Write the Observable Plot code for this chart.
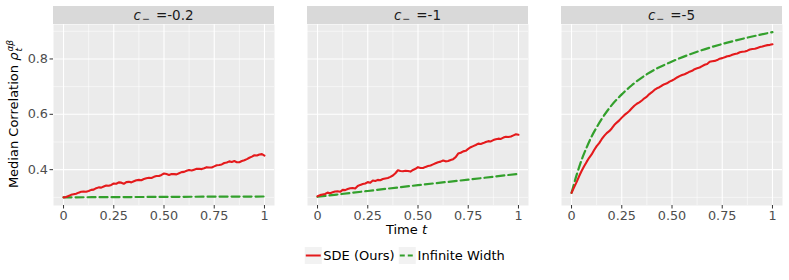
<!DOCTYPE html>
<html><head><meta charset="utf-8">
<script src="https://cdn.jsdelivr.net/npm/d3@7"></script>
<script src="https://cdn.jsdelivr.net/npm/@observablehq/plot@0.6"></script>
<style>
body{margin:0;background:#fff;font-family:"DejaVu Sans",sans-serif;}
#wrap{position:relative;width:789px;height:280px;overflow:hidden;}
#wrap svg.plot{position:absolute;left:0;top:0;}
#wrap svg.plot text{font-family:"DejaVu Sans",sans-serif !important;font-size:12.8px !important;}
.strip{position:absolute;top:6px;height:18px;background:#D9D9D9;color:#1A1A1A;font-size:13.5px;text-align:center;line-height:18px;white-space:nowrap;}
.strip sub{font-size:9.5px;vertical-align:-2px;margin-left:1px;margin-right:6px;}
#ytitle{position:absolute;left:15px;top:114px;transform:translate(-50%,-50%) rotate(-90deg);font-size:13px;color:#000;white-space:nowrap;}
#ytitle .ss{display:inline-flex;flex-direction:column;vertical-align:5px;font-size:9px;line-height:9px;font-style:italic;margin-left:1px;}
#xtitle{position:absolute;top:222px;font-size:13px;line-height:16px;color:#000;white-space:nowrap;transform:translateX(-50%);}
#legend{position:absolute;top:247px;font-size:13px;color:#000;display:flex;align-items:center;white-space:nowrap;transform:translateX(-50%);}
#legend .key{width:17px;height:17px;background:#F2F2F2;display:inline-block;margin-right:2px;}
#legend .item{display:flex;align-items:center;margin-right:4px;}
</style></head><body><div id="wrap"></div>
<script>
// ---- data ----
const panels = ["-0.2", "-1", "-5"];
const seriesNames = ["SDE (Ours)", "Infinite Width"];
const seriesColors = ["#E41A1C", "#33A02C"];

const tSde = [0,0.0125,0.025,0.0375,0.05,0.0625,0.075,0.0875,0.1,0.1125,0.125,0.1375,0.15,0.1625,0.175,0.1875,0.2,0.2125,0.225,0.2375,0.25,0.2625,0.275,0.2875,0.3,0.3125,0.325,0.3375,0.35,0.3625,0.375,0.3875,0.4,0.4125,0.425,0.4375,0.45,0.4625,0.475,0.4875,0.5,0.5125,0.525,0.5375,0.55,0.5625,0.575,0.5875,0.6,0.6125,0.625,0.6375,0.65,0.6625,0.675,0.6875,0.7,0.7125,0.725,0.7375,0.75,0.7625,0.775,0.7875,0.8,0.8125,0.825,0.8375,0.85,0.8625,0.875,0.8875,0.9,0.9125,0.925,0.9375,0.95,0.9625,0.975,0.9875,1];
const sdeA = [0.300,0.301,0.305,0.309,0.311,0.313,0.317,0.320,0.321,0.320,0.323,0.327,0.328,0.333,0.336,0.335,0.339,0.343,0.342,0.345,0.350,0.349,0.354,0.353,0.349,0.355,0.356,0.354,0.358,0.362,0.363,0.362,0.366,0.369,0.371,0.370,0.374,0.377,0.377,0.381,0.386,0.384,0.381,0.384,0.384,0.383,0.387,0.391,0.392,0.396,0.399,0.397,0.400,0.403,0.403,0.402,0.405,0.409,0.408,0.408,0.412,0.416,0.417,0.419,0.424,0.426,0.430,0.428,0.431,0.427,0.427,0.431,0.434,0.438,0.443,0.447,0.452,0.451,0.455,0.456,0.451];
const sdeB = [0.304,0.308,0.310,0.312,0.317,0.315,0.318,0.321,0.322,0.320,0.327,0.326,0.330,0.333,0.334,0.332,0.341,0.345,0.348,0.350,0.355,0.353,0.361,0.359,0.363,0.362,0.366,0.368,0.370,0.374,0.379,0.387,0.398,0.395,0.394,0.396,0.395,0.393,0.399,0.403,0.409,0.406,0.406,0.410,0.413,0.415,0.419,0.423,0.427,0.429,0.433,0.430,0.431,0.435,0.438,0.445,0.458,0.461,0.466,0.468,0.475,0.481,0.485,0.489,0.494,0.493,0.496,0.500,0.503,0.502,0.507,0.510,0.512,0.511,0.516,0.519,0.518,0.520,0.524,0.528,0.526];
const sdeC = [0.316,0.336,0.355,0.376,0.395,0.412,0.428,0.443,0.455,0.471,0.485,0.496,0.510,0.522,0.532,0.539,0.549,0.561,0.570,0.578,0.588,0.597,0.604,0.612,0.622,0.631,0.638,0.643,0.650,0.658,0.664,0.673,0.680,0.688,0.694,0.698,0.704,0.709,0.712,0.718,0.722,0.727,0.733,0.738,0.742,0.745,0.749,0.754,0.757,0.763,0.766,0.769,0.774,0.779,0.782,0.790,0.792,0.793,0.796,0.801,0.803,0.806,0.810,0.811,0.815,0.818,0.820,0.824,0.826,0.827,0.830,0.834,0.836,0.837,0.840,0.843,0.845,0.848,0.850,0.851,0.853];

const tInfAB = [0,0.25,0.5,0.75,1];
const infA = [0.300,0.3008,0.3016,0.3024,0.303];
const infB = [0.302,0.323,0.344,0.364,0.385];
const tInfC = [0,0.025,0.05,0.075,0.1,0.125,0.15,0.2,0.25,0.3,0.375,0.5,0.625,0.75,0.875,1];
const infC = [0.316,0.380,0.435,0.480,0.520,0.553,0.583,0.633,0.672,0.705,0.745,0.791,0.826,0.854,0.877,0.897];

const xTicks = [0,0.25,0.5,0.75,1];
const xTickLabels = ["0","0.25","0.50","0.75","1"];
const xMinor = [0.125,0.375,0.625,0.875];
const yTicks = [0.4,0.6,0.8];
const yTickLabels = ["0.4","0.6","0.8"];
const yMinor = [0.3,0.5,0.7,0.9];

// ---- tables ----
const sdeRows = [];
[[panels[0], sdeA],[panels[1], sdeB],[panels[2], sdeC]].forEach(([c, vals]) =>
  vals.forEach((v, i) => sdeRows.push({c, t: tSde[i], v})));
const infRows = [];
[[panels[0], tInfAB, infA],[panels[1], tInfAB, infB],[panels[2], tInfC, infC]].forEach(([c, ts, vals]) =>
  vals.forEach((v, i) => infRows.push({c, t: ts[i], v})));

const chart = Plot.plot({
  width: 789, height: 222,
  marginTop: 24, marginBottom: 17, marginLeft: 52, marginRight: 6,
  style: {background: "transparent", fontFamily: "DejaVu Sans", fontSize: "12.8px", color: "#4D4D4D", overflow: "visible"},
  fx: {domain: panels, paddingInner: 0.13, paddingOuter: 0, axis: null},
  x: {domain: [-0.05, 1.05]},
  y: {domain: [0.2705, 0.9245]},
  marks: [
    Plot.frame({fill: "#EBEBEB"}),
    Plot.gridX(xMinor, {stroke: "#FFFFFF", strokeOpacity: 1, strokeWidth: 0.55}),
    Plot.gridY(yMinor, {stroke: "#FFFFFF", strokeOpacity: 1, strokeWidth: 0.55}),
    Plot.gridX(xTicks, {stroke: "#FFFFFF", strokeOpacity: 1, strokeWidth: 1.1}),
    Plot.gridY(yTicks, {stroke: "#FFFFFF", strokeOpacity: 1, strokeWidth: 1.1}),
    Plot.axisX(xTicks, {tickFormat: d => xTickLabels[xTicks.indexOf(d)], tickSize: 3.5, tickPadding: 2, stroke: "#333333", fill: "#4D4D4D", label: null}),
    Plot.axisY(yTicks, {tickFormat: d => yTickLabels[yTicks.indexOf(d)], tickSize: 3.5, tickPadding: 2, stroke: "#333333", fill: "#4D4D4D", label: null}),
    Plot.lineY(infRows, {x: "t", y: "v", fx: "c", stroke: seriesColors[1], strokeWidth: 2.2, strokeDasharray: "8,4", curve: "monotone-x"}),
    Plot.lineY(sdeRows, {x: "t", y: "v", fx: "c", stroke: seriesColors[0], strokeWidth: 2.1, curve: "linear"})
  ]
});
chart.classList.add("plot");
const wrap = document.getElementById("wrap");
wrap.appendChild(chart);

// strips from the fx scale
const fx = chart.scale("fx");
const bw = fx.bandwidth;
panels.forEach(p => {
  const d = document.createElement("div");
  d.className = "strip";
  d.style.left = fx.apply(p) + "px";
  d.style.width = bw + "px";
  d.innerHTML = '<i>c</i><sub>\u2212</sub>=' + p;
  wrap.appendChild(d);
});

// y title
const yt = document.createElement("div");
yt.id = "ytitle";
yt.innerHTML = 'Median Correlation <i>\u03C1</i><span class="ss"><span>\u03B1\u03B2</span><span>t</span></span>';
wrap.appendChild(yt);

// x title & legend centered
const left0 = fx.apply(panels[0]);
const right2 = fx.apply(panels[2]) + bw;
const cx = (left0 + right2) / 2 - 11;
const xt = document.createElement("div");
xt.id = "xtitle";
xt.style.left = cx + "px";
xt.innerHTML = 'Time <i>t</i>';
wrap.appendChild(xt);

const lg = document.createElement("div");
lg.id = "legend";
lg.style.left = cx + "px";
lg.innerHTML = seriesNames.map((n, i) =>
  `<span class="item"><span class="key"><svg width="17" height="17"><line x1="1" x2="16" y1="8.5" y2="8.5" stroke="${seriesColors[i]}" stroke-width="2.2" ${i === 1 ? 'stroke-dasharray="5,3"' : ''}/></svg></span>${n}</span>`
).join("");
wrap.appendChild(lg);
</script>
</body></html>
